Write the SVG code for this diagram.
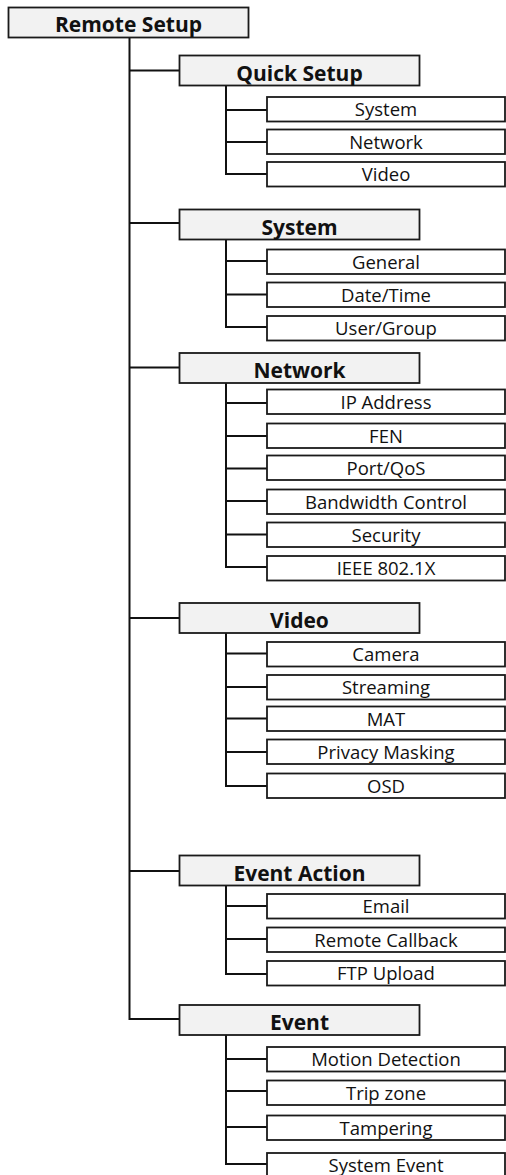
<svg xmlns="http://www.w3.org/2000/svg" width="506" height="1175" viewBox="0 0 506 1175">
<style>
.p{fill:#f2f2f2;stroke:#1a1a1a;stroke-width:1.8}
.c{fill:#ffffff;stroke:#1a1a1a;stroke-width:1.8}
.pt{font-family:"Open Sans","Noto Sans",sans-serif;font-weight:bold;font-size:21px;fill:#111;text-anchor:middle}
.ct{font-family:"Open Sans","Noto Sans",sans-serif;font-size:18.5px;fill:#111;text-anchor:middle}
.ln{fill:none;stroke:#111;stroke-width:2}
</style>
<rect width="506" height="1175" fill="#ffffff"/>
<g id="connectors" class="ln">
<path d="M129.5 38V1019H179.5"/>
<path d="M129.5 70.5H179.5M129.5 223H179.5M129.5 367.5H179.5M129.5 618H179.5M129.5 871H179.5"/>
<path d="M226 86V174H267M226 110H267M226 142H267"/>
<path d="M226 240V327H267M226 261H267M226 294.5H267"/>
<path d="M226 383V567H267M226 403H267M226 436H267M226 468.5H267M226 501H267M226 534.5H267"/>
<path d="M226 633V786H267M226 653.5H267M226 687H267M226 718.5H267M226 752H267"/>
<path d="M226 885.5V974H267M226 906H267M226 939H267"/>
<path d="M226 1035V1164H267M226 1059H267M226 1091H267M226 1127H267"/>
</g>
<g id="root"><rect class="p" x="8.5" y="7.5" width="240" height="30"/><text class="pt" x="128.5" y="31.5">Remote Setup</text></g>
<g id="quick-setup"><rect class="p" x="179.5" y="55.5" width="240" height="30"/><text class="pt" x="299.5" y="80.5">Quick Setup</text></g>
<g id="qs-system"><rect class="c" x="267" y="97" width="238" height="24.5"/><text class="ct" x="386" y="116">System</text></g>
<g id="qs-network"><rect class="c" x="267" y="129.5" width="238" height="24.5"/><text class="ct" x="386" y="148.5">Network</text></g>
<g id="qs-video"><rect class="c" x="267" y="162" width="238" height="24.5"/><text class="ct" x="386" y="181">Video</text></g>
<g id="system"><rect class="p" x="179.5" y="209.5" width="240" height="30"/><text class="pt" x="299.5" y="234.5">System</text></g>
<g id="sys-general"><rect class="c" x="267" y="249.5" width="238" height="24.5"/><text class="ct" x="386" y="268.5">General</text></g>
<g id="sys-datetime"><rect class="c" x="267" y="282.5" width="238" height="24.5"/><text class="ct" x="386" y="301.5">Date/Time</text></g>
<g id="sys-usergroup"><rect class="c" x="267" y="316" width="238" height="24.5"/><text class="ct" x="386" y="335">User/Group</text></g>
<g id="network"><rect class="p" x="179.5" y="353" width="240" height="30"/><text class="pt" x="299.5" y="378">Network</text></g>
<g id="net-ip"><rect class="c" x="267" y="389.5" width="238" height="24.5"/><text class="ct" x="386" y="408.5">IP Address</text></g>
<g id="net-fen"><rect class="c" x="267" y="423.5" width="238" height="24.5"/><text class="ct" x="386" y="442.5">FEN</text></g>
<g id="net-port"><rect class="c" x="267" y="455.5" width="238" height="24.5"/><text class="ct" x="386" y="474.5">Port/QoS</text></g>
<g id="net-bw"><rect class="c" x="267" y="489.5" width="238" height="24.5"/><text class="ct" x="386" y="508.5">Bandwidth Control</text></g>
<g id="net-security"><rect class="c" x="267" y="522.5" width="238" height="24.5"/><text class="ct" x="386" y="541.5">Security</text></g>
<g id="net-ieee"><rect class="c" x="267" y="556" width="238" height="24.5"/><text class="ct" x="386" y="575">IEEE 802.1X</text></g>
<g id="video"><rect class="p" x="179.5" y="603" width="240" height="30"/><text class="pt" x="299.5" y="628">Video</text></g>
<g id="vid-camera"><rect class="c" x="267" y="642" width="238" height="24.5"/><text class="ct" x="386" y="661">Camera</text></g>
<g id="vid-streaming"><rect class="c" x="267" y="675" width="238" height="24.5"/><text class="ct" x="386" y="694">Streaming</text></g>
<g id="vid-mat"><rect class="c" x="267" y="706.5" width="238" height="24.5"/><text class="ct" x="386" y="725.5">MAT</text></g>
<g id="vid-privacy"><rect class="c" x="267" y="739.5" width="238" height="24.5"/><text class="ct" x="386" y="758.5">Privacy Masking</text></g>
<g id="vid-osd"><rect class="c" x="267" y="773.5" width="238" height="24.5"/><text class="ct" x="386" y="792.5">OSD</text></g>
<g id="event-action"><rect class="p" x="179.5" y="855.5" width="240" height="30"/><text class="pt" x="299.5" y="880.5">Event Action</text></g>
<g id="ea-email"><rect class="c" x="267" y="894" width="238" height="24.5"/><text class="ct" x="386" y="913">Email</text></g>
<g id="ea-callback"><rect class="c" x="267" y="927.5" width="238" height="24.5"/><text class="ct" x="386" y="946.5">Remote Callback</text></g>
<g id="ea-ftp"><rect class="c" x="267" y="961" width="238" height="24.5"/><text class="ct" x="386" y="980">FTP Upload</text></g>
<g id="event"><rect class="p" x="179.5" y="1005" width="240" height="30"/><text class="pt" x="299.5" y="1030">Event</text></g>
<g id="ev-motion"><rect class="c" x="267" y="1047" width="238" height="24.5"/><text class="ct" x="386" y="1066">Motion Detection</text></g>
<g id="ev-trip"><rect class="c" x="267" y="1080.5" width="238" height="24.5"/><text class="ct" x="386" y="1099.5">Trip zone</text></g>
<g id="ev-tampering"><rect class="c" x="267" y="1115.5" width="238" height="24.5"/><text class="ct" x="386" y="1134.5">Tampering</text></g>
<g id="ev-sysevent"><rect class="c" x="267" y="1153" width="238" height="24.5"/><text class="ct" x="386" y="1172">System Event</text></g>
</svg>
